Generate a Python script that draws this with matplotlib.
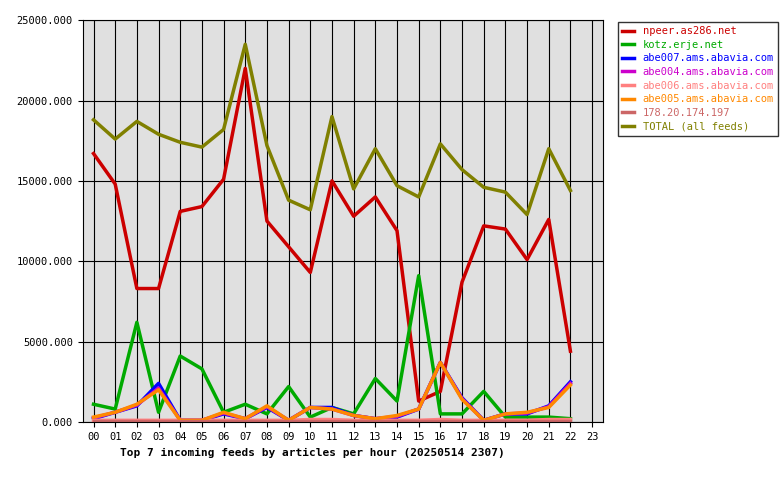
import matplotlib
matplotlib.use("Agg")
import matplotlib.pyplot as plt

hours = ["%02d" % h for h in range(24)]

npeer = [16700, 14800, 8300, 8300, 13100, 13400, 15100, 22000, 12500, 10900, 9300, 15000,
         12800, 14000, 11900, 1300, 1900, 8700, 12200, 12000, 10100, 12600, 4400]
kotz = [1100, 800, 6200, 600, 4100, 3300, 600, 1100, 500, 2200, 300, 900,
        500, 2700, 1300, 9100, 500, 500, 1900, 300, 300, 300, 200]
abe007 = [200, 600, 1000, 2400, 100, 100, 500, 200, 900, 100, 900, 900,
          400, 200, 300, 800, 3700, 1500, 100, 500, 500, 1000, 2500]
abe004 = [250, 600, 1050, 2100, 100, 100, 550, 200, 950, 100, 900, 800,
          400, 200, 350, 800, 3700, 1450, 100, 500, 550, 950, 2400]
abe006 = [100, 100, 100, 100, 100, 100, 100, 100, 100, 100, 150, 150,
          100, 100, 100, 100, 150, 100, 100, 100, 100, 150, 150]
abe005 = [300, 600, 1100, 2000, 100, 100, 600, 200, 1000, 100, 900, 800,
          400, 200, 400, 800, 3700, 1400, 100, 500, 600, 900, 2300]
ip178 = [50, 50, 50, 50, 50, 50, 50, 50, 50, 50, 50, 50,
         50, 50, 50, 50, 50, 50, 50, 50, 50, 50, 50]
total = [18800, 17600, 18700, 17900, 17400, 17100, 18200, 23500, 17200, 13800, 13200, 19000,
         14500, 17000, 14700, 14000, 17300, 15700, 14600, 14300, 12900, 17000, 14400]

series = [
    ("npeer.as286.net", npeer, "#cc0000"),
    ("kotz.erje.net", kotz, "#00aa00"),
    ("abe007.ams.abavia.com", abe007, "#0000ff"),
    ("abe004.ams.abavia.com", abe004, "#cc00cc"),
    ("abe006.ams.abavia.com", abe006, "#ff8080"),
    ("abe005.ams.abavia.com", abe005, "#ff8800"),
    ("178.20.174.197", ip178, "#cc6666"),
    ("TOTAL (all feeds)", total, "#808000"),
]

plt.rcParams["font.family"] = "DejaVu Sans Mono"
plt.rcParams["font.size"] = 7.5

fig = plt.figure(figsize=(7.8, 4.8), dpi=100)
ax = fig.add_axes([0.106, 0.121, 0.667, 0.837])
ax.set_facecolor("#e0e0e0")

x = list(range(len(npeer)))
for name, vals, col in series:
    ax.plot(x, vals, color=col, lw=2.5, label=name)

ax.set_xlim(-0.5, 23.5)
ax.set_ylim(0, 25000)
ax.set_xticks(range(24))
ax.set_xticklabels(hours)
ax.set_yticks(range(0, 25001, 5000))
ax.set_yticklabels(["%d.000" % v for v in range(0, 25001, 5000)])
ax.grid(True, color="black", lw=0.8)
ax.set_axisbelow(True)

leg = fig.legend(loc="upper left", bbox_to_anchor=(0.785, 0.965), frameon=True,
                 fancybox=False, edgecolor="black", handlelength=1.2,
                 borderpad=0.4, labelspacing=0.35, fontsize=7.5)
for t, (_, _, col) in zip(leg.get_texts(), series):
    t.set_color(col)

fig.text(0.40, 0.05, "Top 7 incoming feeds by articles per hour (20250514 2307)",
         ha="center", fontsize=8, fontweight="bold")

fig.savefig("out.png", dpi=100)
